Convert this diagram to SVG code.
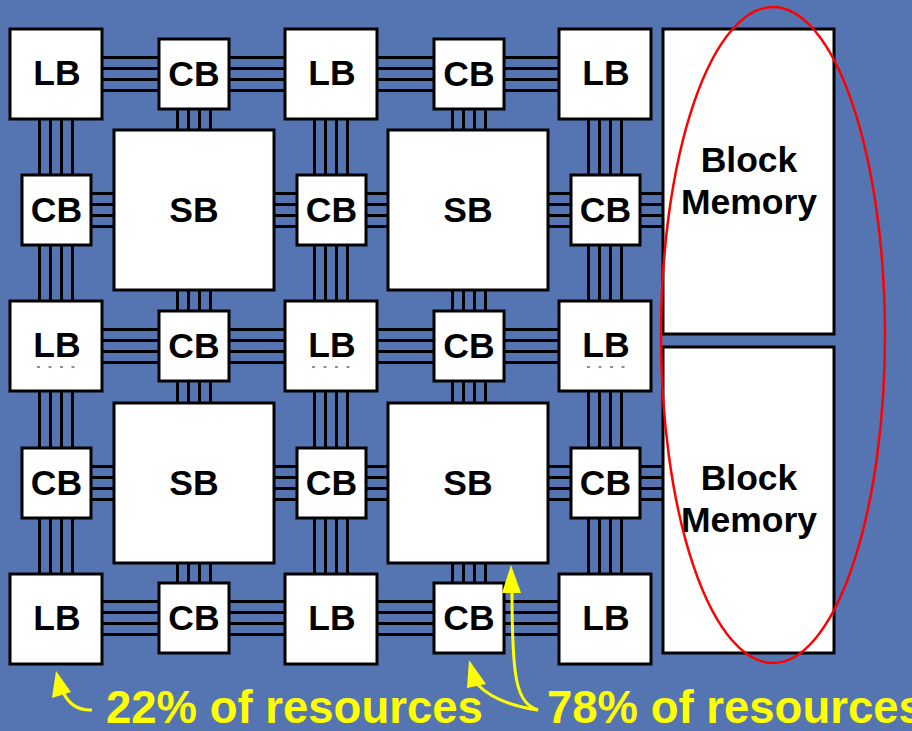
<svg xmlns="http://www.w3.org/2000/svg" width="912" height="731" viewBox="0 0 912 731">
<style>
.bg{fill:#5575B2}
.box{fill:#fff;stroke:#000;stroke-width:3}
.w{stroke:#000;stroke-width:3;fill:none}
.t{font-family:"Liberation Sans",Arial,sans-serif;font-weight:bold;font-size:35.5px;fill:#000;text-anchor:middle}
.y{font-family:"Liberation Sans",Arial,sans-serif;font-weight:bold;font-size:45.5px;fill:#ffff00}
.ya{stroke:#ffff00;stroke-width:3;fill:none}
.yh{fill:#ffff00}
.dots{stroke:#222;stroke-width:1.2;stroke-dasharray:3 8.5}
</style>
<rect class="bg" x="0" y="0" width="912" height="731"/>
<g id="connectors">
  <path class="w" d="M56,57.5H605M56,68.5H605M56,79.5H605M56,90.5H605"/>
  <path class="w" d="M56,329.5H605M56,340.5H605M56,351.5H605M56,362.5H605"/>
  <path class="w" d="M56,601.5H605M56,612.5H605M56,623.5H605M56,634.5H605"/>
  <path class="w" d="M56,193.5H700M56,204.5H700M56,215.5H700M56,226.5H700"/>
  <path class="w" d="M56,466.5H700M56,477.5H700M56,488.5H700M56,499.5H700"/>
  <path class="w" d="M39.5,74V618M50.5,74V618M61.5,74V618M72.5,74V618"/>
  <path class="w" d="M314.5,74V618M325.5,74V618M336.5,74V618M347.5,74V618"/>
  <path class="w" d="M588.5,74V618M599.5,74V618M610.5,74V618M621.5,74V618"/>
  <path class="w" d="M177.5,74V618M188.5,74V618M199.5,74V618M210.5,74V618"/>
  <path class="w" d="M452.5,74V618M463.5,74V618M474.5,74V618M485.5,74V618"/>
</g>
<g id="sb1"><rect class="box" x="114" y="130" width="160" height="160"/><text class="t" x="194" y="222">SB</text></g>
<g id="sb2"><rect class="box" x="388" y="130" width="160" height="160"/><text class="t" x="468" y="222">SB</text></g>
<g id="sb3"><rect class="box" x="114" y="403" width="160" height="160"/><text class="t" x="194" y="495">SB</text></g>
<g id="sb4"><rect class="box" x="388" y="403" width="160" height="160"/><text class="t" x="468" y="495">SB</text></g>

<g id="lb11"><rect class="box" x="10" y="29" width="92" height="90"/><text class="t" x="57" y="85">LB</text></g>
<g id="lb12"><rect class="box" x="285" y="29" width="92" height="90"/><text class="t" x="332" y="85">LB</text></g>
<g id="lb13"><rect class="box" x="559" y="29" width="92" height="90"/><text class="t" x="606" y="85">LB</text></g>
<g id="lb21"><rect class="box" x="10" y="301" width="92" height="90"/><text class="t" x="57" y="357">LB</text><line class="dots" x1="37" y1="367" x2="77" y2="367"/></g>
<g id="lb22"><rect class="box" x="285" y="301" width="92" height="90"/><text class="t" x="332" y="357">LB</text><line class="dots" x1="312" y1="367" x2="352" y2="367"/></g>
<g id="lb23"><rect class="box" x="559" y="301" width="92" height="90"/><text class="t" x="606" y="357">LB</text><line class="dots" x1="587" y1="367" x2="627" y2="367"/></g>
<g id="lb31"><rect class="box" x="10" y="574" width="92" height="90"/><text class="t" x="57" y="630">LB</text></g>
<g id="lb32"><rect class="box" x="285" y="574" width="92" height="90"/><text class="t" x="332" y="630">LB</text></g>
<g id="lb33"><rect class="box" x="559" y="574" width="92" height="90"/><text class="t" x="606" y="630">LB</text></g>

<g id="cb_r1a"><rect class="box" x="159" y="39" width="70" height="70"/><text class="t" x="194" y="86">CB</text></g>
<g id="cb_r1b"><rect class="box" x="434" y="39" width="70" height="70"/><text class="t" x="469" y="86">CB</text></g>
<g id="cb_r2a"><rect class="box" x="22" y="175" width="69" height="70"/><text class="t" x="56.5" y="222">CB</text></g>
<g id="cb_r2b"><rect class="box" x="297" y="175" width="69" height="70"/><text class="t" x="331.5" y="222">CB</text></g>
<g id="cb_r2c"><rect class="box" x="571" y="175" width="69" height="70"/><text class="t" x="605.5" y="222">CB</text></g>
<g id="cb_r3a"><rect class="box" x="159" y="311" width="70" height="70"/><text class="t" x="194" y="358">CB</text></g>
<g id="cb_r3b"><rect class="box" x="434" y="311" width="70" height="70"/><text class="t" x="469" y="358">CB</text></g>
<g id="cb_r4a"><rect class="box" x="22" y="448" width="69" height="70"/><text class="t" x="56.5" y="495">CB</text></g>
<g id="cb_r4b"><rect class="box" x="297" y="448" width="69" height="70"/><text class="t" x="331.5" y="495">CB</text></g>
<g id="cb_r4c"><rect class="box" x="571" y="448" width="69" height="70"/><text class="t" x="605.5" y="495">CB</text></g>
<g id="cb_r5a"><rect class="box" x="159" y="583" width="70" height="70"/><text class="t" x="194" y="630">CB</text></g>
<g id="cb_r5b"><rect class="box" x="434" y="583" width="70" height="70"/><text class="t" x="469" y="630">CB</text></g>

<g id="mem1"><rect class="box" x="663" y="29" width="171" height="305"/><text class="t" x="749" y="172">Block</text><text class="t" x="749" y="214">Memory</text></g>
<g id="mem2"><rect class="box" x="663" y="347" width="171" height="306"/><text class="t" x="749" y="490">Block</text><text class="t" x="749" y="532">Memory</text></g>

<g id="highlight"><ellipse cx="773" cy="335" rx="112" ry="328" fill="none" stroke="#ff0000" stroke-width="2.5"/></g>

<g id="annotations">
  <path class="ya" d="M92,710 Q72,711 63,692"/>
  <polygon class="yh" points="56,671 52,698 71,692"/>
  <path class="ya" d="M538,710 Q496,704 477,684"/>
  <polygon class="yh" points="469,660 467,688 486,684"/>
  <path class="ya" d="M538,710 C516,702 512,680 512,590"/>
  <polygon class="yh" points="511,565 502,593 521,593"/>
  <text class="y" x="106" y="723">22% of resources</text>
  <text class="y" x="547" y="723">78% of resources</text>
</g>
</svg>
